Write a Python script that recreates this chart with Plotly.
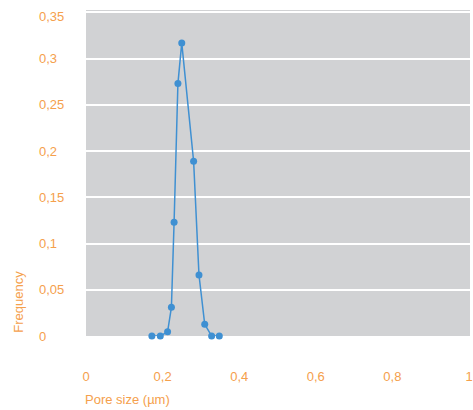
import plotly.graph_objects as go

pore_size = [0.172, 0.194, 0.213, 0.223, 0.230, 0.240, 0.250, 0.281, 0.295, 0.310, 0.328, 0.348]
frequency = [0.0, 0.0, 0.0045, 0.031, 0.123, 0.273, 0.317, 0.189, 0.066, 0.0127, 0.0, 0.0]

x_ticks = [0, 0.2, 0.4, 0.6, 0.8, 1]
y_ticks = [0, 0.05, 0.1, 0.15, 0.2, 0.25, 0.3, 0.35]
y_tick_labels = ["0", "0,05", "0,1", "0,15", "0,2", "0,25", "0,3", "0,35"]

orange = "#F5A04C"
blue = "#3F90D2"
font_family = "Liberation Sans, Arial"
fs = 13

fig = go.Figure()
fig.add_trace(go.Scatter(
    x=pore_size, y=frequency, mode="lines+markers",
    line=dict(color=blue, width=1.5),
    marker=dict(color=blue, size=7),
    showlegend=False, cliponaxis=False,
))

annotations = [
    dict(text=lab, xref="paper", yref="y", x=-0.1266, y=v, showarrow=False,
         xanchor="left", yanchor="middle", yshift=(-4 if v == 0.35 else 0),
         font=dict(color=orange, size=fs))
    for v, lab in zip(y_ticks, y_tick_labels)
]
annotations += [
    dict(text="Frequency", xref="paper", yref="paper", x=-0.178, y=0.104,
         showarrow=False, textangle=-90, xanchor="center", yanchor="middle",
         font=dict(color=orange, size=fs)),
    dict(text="Pore size (µm)", xref="paper", yref="paper", x=-0.008, y=-0.196,
         showarrow=False, xanchor="left", yanchor="middle",
         font=dict(color=orange, size=fs)),
]

fig.update_layout(
    width=473, height=410,
    margin=dict(l=86, r=0, t=10, b=74),
    paper_bgcolor="white",
    plot_bgcolor="#D1D2D4",
    separators=", ",
    font=dict(family=font_family, size=fs, color=orange),
    xaxis=dict(
        range=[0, 1.0026], tickvals=x_ticks, showgrid=False, zeroline=False,
        showline=False, ticks="outside", ticklen=28, tickcolor="rgba(0,0,0,0)",
        tickfont=dict(color=orange, size=fs), ticklabeloverflow="allow",
    ),
    yaxis=dict(
        range=[0, 0.3526], tickvals=y_ticks, showgrid=True, gridcolor="white",
        gridwidth=2, zeroline=False, showline=False, showticklabels=False,
    ),
    annotations=annotations,
)

fig.write_html(
    "out.html",
    config={"displayModeBar": False},
    post_script="document.body.style.margin='0';document.body.style.overflow='hidden';",
)
